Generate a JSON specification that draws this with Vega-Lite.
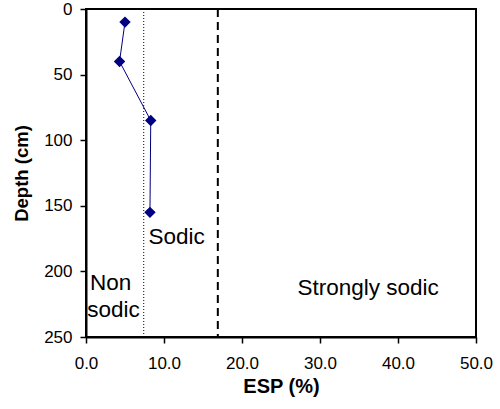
{
  "$schema": "https://vega.github.io/schema/vega-lite/v6.json",
  "autosize": "none",
  "width": 390,
  "height": 328,
  "padding": {"left": 86, "top": 9, "right": 24, "bottom": 72},
  "background": "white",
  "config": {
    "font": "Liberation Sans",
    "view": {"stroke": "black", "strokeWidth": 2},
    "axis": {
      "grid": false,
      "labelFlush": false,
      "labelOverlap": false,
      "domainColor": "black",
      "domainWidth": 2,
      "tickColor": "black",
      "tickWidth": 1.5,
      "tickSize": 6,
      "labelFont": "Liberation Sans",
      "labelFontSize": 17,
      "labelColor": "black",
      "titleFont": "Liberation Sans",
      "titleFontWeight": "bold",
      "titleColor": "black"
    }
  },
  "datasets": {
    "profile": [
      {"esp": 5.0, "depth": 10},
      {"esp": 4.3, "depth": 40},
      {"esp": 8.3, "depth": 85},
      {"esp": 8.2, "depth": 155}
    ],
    "thresholds": [
      {"esp": 7.4, "kind": "dotted"},
      {"esp": 16.9, "kind": "dashed"}
    ],
    "labels": [
      {"esp": 8.0, "depth": 174, "label": "Sodic"},
      {"esp": 0.5, "depth": 209, "label": "Non"},
      {"esp": 0.15, "depth": 229.5, "label": "sodic"},
      {"esp": 27.1, "depth": 213, "label": "Strongly sodic"}
    ]
  },
  "layer": [
    {
      "data": {"name": "thresholds"},
      "transform": [{"filter": "datum.kind === 'dotted'"}],
      "mark": {"type": "rule", "color": "black", "strokeWidth": 1, "strokeDash": [1, 2]},
      "encoding": {"x": {"field": "esp", "type": "quantitative", "scale": {"domain": [0, 50], "nice": false}}}
    },
    {
      "data": {"name": "thresholds"},
      "transform": [{"filter": "datum.kind === 'dashed'"}],
      "mark": {"type": "rule", "color": "black", "strokeWidth": 2, "strokeDash": [8, 5]},
      "encoding": {"x": {"field": "esp", "type": "quantitative"}}
    },
    {
      "data": {"name": "profile"},
      "mark": {"type": "line", "color": "#000080", "strokeWidth": 1, "point": {"shape": "diamond", "size": 130, "filled": true, "color": "#000080", "opacity": 1}},
      "encoding": {
        "x": {
          "field": "esp", "type": "quantitative", "title": "ESP (%)",
          "scale": {"domain": [0, 50], "nice": false, "zero": false},
          "axis": {"values": [0, 5, 10, 15, 20, 25, 30, 35, 40, 45, 50],
                   "labelExpr": "datum.value % 10 === 0 ? format(datum.value, '.1f') : ''",
                   "labelPadding": 12, "titlePadding": 5, "titleFontSize": 20}
        },
        "y": {
          "field": "depth", "type": "quantitative", "title": "Depth (cm)", "sort": null,
          "scale": {"domain": [0, 250], "reverse": true, "nice": false},
          "axis": {"values": [0, 50, 100, 150, 200, 250], "labelPadding": 8, "titlePadding": 12, "titleFontSize": 18.5}
        },
        "order": {"field": "depth", "type": "quantitative"}
      }
    },
    {
      "data": {"name": "labels"},
      "mark": {"type": "text", "align": "left", "baseline": "middle", "fontSize": 22.5, "color": "black", "font": "Liberation Sans"},
      "encoding": {
        "x": {"field": "esp", "type": "quantitative"},
        "y": {"field": "depth", "type": "quantitative"},
        "text": {"field": "label"}
      }
    }
  ]
}
